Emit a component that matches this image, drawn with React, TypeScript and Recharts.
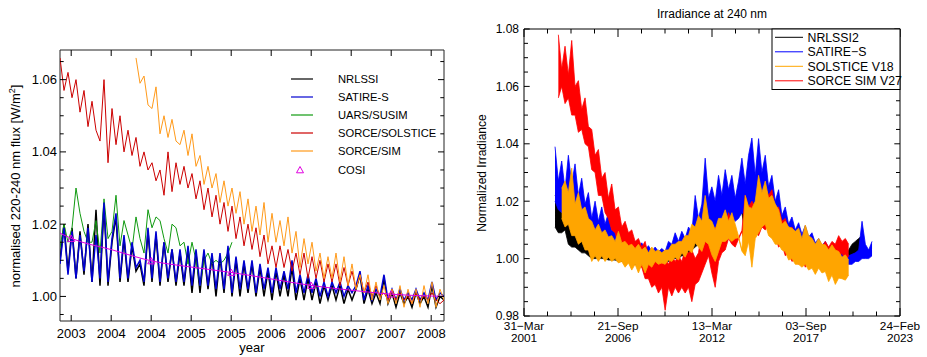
import React from "react";
import { Area, ComposedChart, Line, ReferenceArea, Scatter, XAxis, YAxis } from "recharts";

// ---------- left panel: 220-240 nm flux, samples every 0.05 yr from 2002.86 ----------
const LEFT_START = 2002.86;
const LEFT_STEP = 0.05;

const NRLSSI = [
  1.010, 1.020, 1.007, 1.019, 1.005, 1.018, 1.006, 1.020, 1.004, 1.024,
  1.003, 1.025, 1.003, 1.015, 1.022, 1.004, 1.016, 1.004, 1.014, 1.007,
  1.009, 1.003, 1.018, 1.004, 1.017, 1.003, 1.015, 1.004, 1.013, 1.003,
  1.012, 1.003, 1.013, 1.001, 1.012, 1.001, 1.012, 1.002, 1.011, 1.000,
  1.011, 1.001, 1.013, 1.000, 1.010, 1.000, 1.009, 1.001, 1.009, 1.000,
  1.008, 1.000, 1.007, 0.999, 1.007, 1.000, 1.006, 1.000, 1.008, 0.999,
  1.005, 0.999, 1.005, 0.999, 1.004, 0.998, 1.003, 0.999, 1.003, 0.999,
  1.003, 0.998, 1.002, 0.999, 1.002, 1.006, 0.998, 1.002, 0.998, 1.001,
  0.998, 1.005, 0.998, 1.001, 0.997, 1.001, 0.998, 1.000, 0.997, 1.001,
  0.998, 1.000, 0.997, 1.003, 0.997, 1.000, 0.999,
];
const SATIRE_S = [
  1.009, 1.019, 1.006, 1.018, 1.005, 1.017, 1.007, 1.019, 1.004, 1.017,
  1.005, 1.026, 1.004, 1.016, 1.023, 1.005, 1.017, 1.005, 1.015, 1.008,
  1.010, 1.004, 1.019, 1.005, 1.018, 1.004, 1.015, 1.005, 1.013, 1.004,
  1.013, 1.004, 1.014, 1.003, 1.013, 1.003, 1.013, 1.003, 1.012, 1.002,
  1.012, 1.002, 1.014, 1.001, 1.011, 1.002, 1.010, 1.002, 1.010, 1.001,
  1.009, 1.002, 1.008, 1.001, 1.008, 1.002, 1.007, 1.002, 1.010, 1.001,
  1.006, 1.001, 1.006, 1.001, 1.005, 1.000, 1.004, 1.000, 1.004, 1.001,
  1.004, 1.000, 1.003, 1.001, 1.003, 1.007, 0.999, 1.003, 0.999, 1.002,
  1.000, 1.006, 0.999, 1.002, 0.999, 1.002, 0.999, 1.001, 0.999, 1.002,
  0.999, 1.001, 0.999, 1.004, 0.999, 1.001, 1.000,
];
// UARS/SUSIM stops early in 2005
const UARS_SUSIM = [
  1.0136, 1.020, 1.015, 1.019, 1.030, 1.023, 1.018, 1.015, 1.015, 1.021,
  1.012, 1.027, 1.016, 1.018, 1.028, 1.014, 1.021, 1.017, 1.013, 1.022,
  1.016, 1.012, 1.024, 1.019, 1.022, 1.021, 1.016, 1.012, 1.020, 1.019,
  1.014, 1.015, 1.009, 1.015, 1.010, 1.003, 1.010, 1.012, 1.009, 1.010,
  1.009, 1.010, 1.012, 1.015,
];
const SORCE_SOLSTICE = [
  1.066, 1.057, 1.062, 1.055, 1.060, 1.051, 1.057, 1.047, 1.054, 1.046,
  1.043, 1.060, 1.037, 1.052, 1.042, 1.050, 1.040, 1.046, 1.039, 1.044,
  1.036, 1.040, 1.035, 1.037, 1.032, 1.035, 1.028, 1.040, 1.029, 1.037,
  1.031, 1.036, 1.030, 1.034, 1.027, 1.032, 1.024, 1.030, 1.022, 1.028,
  1.020, 1.026, 1.018, 1.025, 1.016, 1.022, 1.014, 1.020, 1.013, 1.019,
  1.011, 1.017, 1.009, 1.014, 1.008, 1.014, 1.008, 1.013, 1.007, 1.012,
  1.006, 1.012, 1.005, 1.011, 1.005, 1.010, 1.004, 1.009, 1.004, 1.009,
  1.003, 1.008, 1.003, 1.007, 1.002, 1.006, 1.001, 1.004, 1.000, 1.003,
  1.000, 1.001, 0.999, 1.002, 0.999, 1.001, 0.999, 1.000, 0.998, 1.001,
  0.999, 1.000, 0.999, 1.001, 0.999, 0.998, 0.999,
];
// SORCE/SIM starts late 2003
const SORCE_SIM = [
  null, null, null, null, null, null, null, null, null, null,
  null, null, null, null, null, null, null, null, null, 1.066,
  1.059, 1.061, 1.053, 1.052, 1.058, 1.045, 1.050, 1.044, 1.049, 1.043,
  1.042, 1.046, 1.039, 1.045, 1.036, 1.039, 1.031, 1.036, 1.030, 1.034,
  1.026, 1.032, 1.025, 1.030, 1.023, 1.029, 1.020, 1.027, 1.018, 1.025,
  1.017, 1.026, 1.015, 1.023, 1.015, 1.021, 1.014, 1.022, 1.012, 1.018,
  1.008, 1.016, 1.009, 1.015, 1.007, 1.012, 1.005, 1.011, 1.005, 1.012,
  1.004, 1.011, 1.003, 1.009, 1.002, 1.006, 1.001, 1.006, 0.999, 1.004,
  0.999, 1.003, 0.998, 1.002, 0.998, 1.003, 0.997, 1.002, 0.998, 1.002,
  0.997, 1.003, 0.998, 1.004, 0.997, 1.002, 0.999,
];
// COSI reference curve (sample index -> value) and yearly COSI points
const COSI_FIT_AT = [0, 3, 13, 23, 33, 43, 53, 63, 73, 83, 93, 96];
const COSI_FIT = [1.0175, 1.016, 1.0129, 1.0098, 1.0081, 1.0066, 1.0048, 1.003, 1.0017, 1.0006, 1.0001, 1.0];
const COSI_YEARS = [2003, 2004, 2005, 2006, 2007];
const COSI_VALUES = [1.016, 1.0098, 1.0066, 1.003, 1.0006];

const LEFT_X_TICKS = [2003, 2003.5, 2004, 2004.5, 2005, 2005.5, 2006, 2006.5, 2007, 2007.5];
const LEFT_Y_TICKS = [
  0.995, 1.0, 1.005, 1.01, 1.015, 1.02, 1.025, 1.03, 1.035, 1.04, 1.045, 1.05, 1.055, 1.06, 1.065,
];

// ---------- right panel: 240 nm, days since 31-Mar-2001, every 71 days from day 660 ----------
// each series is a noisy daily record, kept here as its low / high envelope
const RIGHT_START = 660;
const RIGHT_STEP = 71;

const NRLSSI2_LO = [
  1.011, 1.009, 1.009, 1.010, 1.005, 1.004, 1.004, 1.003, 1.002, 1.002,
  1.001, 1.000, 1.000, 1.000, 1.000, 1.000, 0.9995, 0.9995, 0.9995, 0.999,
  0.999, 0.999, 0.999, 0.998, 0.998, 0.998, 0.998, 0.998, 0.998, 0.999,
  0.999, 0.999, 0.999, 0.999, 0.999, 1.000, 1.000, 1.000, 1.001, 1.001,
  1.002, 1.003, 1.004, 1.005, 1.004, 1.006, 1.006, 1.003, 1.002, 1.004,
  1.007, 1.008, 1.008, 1.014, 1.014, 1.015, 1.016, 1.008, 1.008, 1.008,
  1.009, 1.011, 1.012, 1.012, 1.010, 1.008, 1.007, 1.006, 1.005, 1.004,
  1.002, 1.002, 1.001, 1.000, 1.000, 1.000, 0.999, 0.999, 0.998, 0.998,
  0.998, 0.998, 0.997, 0.997, 0.997, 0.997, 0.997, 0.997, 0.999, 1.001,
  1.002, 1.002, 1.003, null, null, null,
];
const NRLSSI2_HI = [
  1.022, 1.020, 1.019, 1.020, 1.018, 1.016, 1.016, 1.015, 1.014, 1.013,
  1.012, 1.011, 1.011, 1.009, 1.008, 1.007, 1.0065, 1.006, 1.0055, 1.005,
  1.005, 1.0045, 1.004, 1.004, 1.0035, 1.0035, 1.003, 1.003, 1.0025, 1.002,
  1.0025, 1.0025, 1.002, 1.002, 1.003, 1.004, 1.004, 1.005, 1.005, 1.006,
  1.007, 1.009, 1.010, 1.012, 1.012, 1.015, 1.013, 1.012, 1.010, 1.013,
  1.014, 1.015, 1.013, 1.016, 1.016, 1.017, 1.018, 1.018, 1.017, 1.017,
  1.019, 1.024, 1.022, 1.024, 1.020, 1.019, 1.018, 1.015, 1.011, 1.012,
  1.010, 1.0095, 1.009, 1.009, 1.0065, 1.009, 1.0075, 1.006, 1.0045, 1.005,
  1.0045, 1.004, 1.0025, 1.0035, 1.0025, 1.002, 1.0005, 1.001, 1.003, 1.005,
  1.006, 1.007, 1.008, null, null, null,
];
const SATIRE2_LO = [
  1.020, 1.017, 1.016, 1.016, 1.015, 1.014, 1.012, 1.011, 1.011, 1.009,
  1.008, 1.006, 1.007, 1.006, 1.005, 1.005, 1.004, 1.0025, 1.0013, 1.0013,
  1.000, 1.000, 1.000, 0.999, 0.999, 0.999, 0.999, 0.999, 0.999, 0.999,
  0.999, 0.999, 0.999, 0.999, 1.000, 1.001, 1.001, 1.001, 1.002, 1.002,
  1.003, 1.004, 1.006, 1.007, 1.007, 1.009, 1.010, 1.009, 1.010, 1.011,
  1.012, 1.013, 1.013, 1.014, 1.013, 1.014, 1.016, 1.015, 1.015, 1.015,
  1.015, 1.015, 1.014, 1.013, 1.011, 1.010, 1.009, 1.008, 1.007, 1.006,
  1.005, 1.004, 1.003, 1.002, 1.001, 1.001, 1.000, 1.000, 0.999, 0.999,
  0.999, 0.999, 0.999, 0.999, 0.999, 0.999, 0.998, 0.998, 0.998, 0.998,
  0.999, 0.999, 1.000, 1.000, 1.000, 1.001,
];
const SATIRE2_HI = [
  1.039, 1.027, 1.034, 1.024, 1.036, 1.026, 1.033, 1.022, 1.028, 1.019,
  1.023, 1.014, 1.020, 1.013, 1.018, 1.012, 1.016, 1.0095, 1.012, 1.008,
  1.0095, 1.006, 1.008, 1.0045, 1.006, 1.0035, 1.0055, 1.003, 1.0045, 1.0025,
  1.004, 1.0025, 1.0035, 1.0025, 1.006, 1.005, 1.009, 1.006, 1.0095, 1.007,
  1.011, 1.009, 1.022, 1.014, 1.019, 1.035, 1.021, 1.025, 1.020, 1.029,
  1.022, 1.031, 1.024, 1.029, 1.021, 1.027, 1.035, 1.026, 1.036, 1.042,
  1.029, 1.0418, 1.030, 1.036, 1.025, 1.029, 1.020, 1.024, 1.015, 1.018,
  1.012, 1.0145, 1.010, 1.0125, 1.0085, 1.0115, 1.0075, 1.009, 1.0055, 1.007,
  1.0045, 1.006, 1.0035, 1.005, 1.003, 1.0045, 1.002, 1.003, 1.001, 1.0015,
  1.002, 1.003, 1.013, 1.005, 1.003, 1.006,
];
const SOLSTICE_LO = [
  null, null, 1.014, 1.011, 1.012, 1.008, 1.008, 1.005, 1.006, 1.003,
  1.003, 0.999, 1.001, 0.999, 1.001, 0.999, 1.0005, 0.999, 1.000, 0.9985,
  0.999, 0.997, 0.9985, 0.996, 0.998, 0.995, 0.998, 0.995, 0.998, 0.997,
  0.999, 0.998, 0.9985, 0.998, 0.9995, 0.999, 1.0005, 0.9995, 1.002, 1.0005,
  1.003, 1.002, 1.0055, 1.004, 1.0025, 1.006, 1.005, 1.0013, 0.999, 1.0025,
  1.006, 1.006, 1.007, 1.006, 1.007, 1.0073, 1.0026, 1.001, 1.006, 0.997,
  1.007, 1.009, 1.011, 1.012, 1.008, 1.007, 1.005, 1.005, 1.003, 1.0025,
  0.9995, 1.000, 0.998, 0.998, 0.997, 0.998, 0.996, 0.9967, 0.9945, 0.9967,
  0.995, 0.9955, 0.992, 0.9943, 0.991, 0.9932, 0.993, 0.9925, 0.9943, null,
  null, null, null, null, null, null,
];
const SOLSTICE_HI = [
  null, null, 1.0245, 1.027, 1.023, 1.0315, 1.019, 1.023, 1.017, 1.018,
  1.014, 1.013, 1.010, 1.012, 1.009, 1.010, 1.0075, 1.008, 1.006, 1.0095,
  1.0055, 1.006, 1.0045, 1.005, 1.0035, 1.005, 1.003, 1.004, 1.002, 1.004,
  1.0025, 1.003, 1.002, 1.003, 1.003, 1.005, 1.005, 1.006, 1.006, 1.008,
  1.008, 1.012, 1.011, 1.015, 1.013, 1.022, 1.014, 1.013, 1.010, 1.014,
  1.014, 1.017, 1.013, 1.016, 1.012, 1.0077, 1.003, 1.022, 1.018, 1.0175,
  1.020, 1.029, 1.023, 1.027, 1.021, 1.022, 1.019, 1.017, 1.012, 1.013,
  1.011, 1.0106, 1.0095, 1.0106, 1.007, 1.0117, 1.008, 1.0071, 1.005, 1.007,
  1.005, 1.0048, 1.003, 1.0048, 1.003, 1.0025, 1.0005, 1.0013, 0.9995, null,
  null, null, null, null, null, null,
];
const SIM_V27_LO = [
  null, 1.056, 1.060, 1.054, 1.056, 1.050, 1.050, 1.044, 1.045, 1.040,
  1.039, 1.031, 1.030, 1.022, 1.022, 1.016, 1.014, 1.010, 1.009, 1.005,
  1.006, 1.003, 1.004, 1.001, 1.002, 0.997, 0.997, 0.993, 0.993, 0.990,
  0.991, 0.988, 0.990, 0.982, 0.990, 0.987, 0.990, 0.988, 0.990, 0.988,
  0.990, 0.985, 0.991, 0.992, 0.995, 0.998, 1.001, 0.995, 0.990, 0.999,
  1.002, 1.003, 1.007, 1.005, 1.004, 1.0068, 1.0094, 1.004, 1.009, 1.006,
  1.009, 1.008, 1.011, 1.010, 1.012, 1.008, 1.008, 1.004, 1.005, 1.001,
  1.002, 0.999, 1.000, 0.998, 1.000, 0.997, 1.000, 0.997, 1.000, 0.998,
  1.000, 0.998, 1.000, 0.999, 1.001, 1.000, 1.002, 0.999, 1.001, null,
  null, null, null, null, null, null,
];
const SIM_V27_HI = [
  null, 1.078, 1.066, 1.074, 1.064, 1.076, 1.060, 1.062, 1.052, 1.056,
  1.046, 1.045, 1.036, 1.038, 1.028, 1.030, 1.021, 1.026, 1.017, 1.018,
  1.011, 1.013, 1.009, 1.010, 1.006, 1.007, 1.004, 1.006, 1.001, 1.002,
  0.999, 1.001, 0.998, 1.000, 0.998, 1.001, 0.999, 1.001, 0.999, 1.003,
  1.002, 1.003, 1.000, 1.002, 1.010, 1.007, 1.012, 1.008, 1.011, 1.008,
  1.012, 1.011, 1.016, 1.013, 1.008, 1.0072, 1.0098, 1.022, 1.018, 1.020,
  1.018, 1.022, 1.020, 1.025, 1.022, 1.024, 1.017, 1.018, 1.013, 1.014,
  1.010, 1.011, 1.008, 1.008, 1.006, 1.007, 1.005, 1.006, 1.004, 1.005,
  1.004, 1.006, 1.004, 1.006, 1.005, 1.008, 1.006, 1.007, 1.005, null,
  null, null, null, null, null, null,
];

const RIGHT_X_TICKS = [0, 500, 1000, 1500, 2000, 2500, 3000, 3500, 4000, 4500, 5000, 5500, 6000, 6500, 7000, 7500, 8000];
const RIGHT_X_LABELS: Record<number, [string, string]> = {
  0: ["31\u2212Mar", "2001"],
  2000: ["21\u2212Sep", "2006"],
  4000: ["13\u2212Mar", "2012"],
  6000: ["03\u2212Sep", "2017"],
  8000: ["24\u2212Feb", "2023"],
};
const RIGHT_Y_TICKS = [
  0.98, 0.985, 0.99, 0.995, 1.0, 1.005, 1.01, 1.015, 1.02, 1.025, 1.03,
  1.035, 1.04, 1.045, 1.05, 1.055, 1.06, 1.065, 1.07, 1.075, 1.08,
];

const LEFT_LEGEND = [
  { name: "NRLSSI", color: "#000000" },
  { name: "SATIRE-S", color: "#0000d0" },
  { name: "UARS/SUSIM", color: "#109a10" },
  { name: "SORCE/SOLSTICE", color: "#cc0000" },
  { name: "SORCE/SIM", color: "#ff9a1a" },
];
const RIGHT_LEGEND = [
  { name: "NRLSSI2", color: "#000000" },
  { name: "SATIRE\u2212S", color: "#0000ff" },
  { name: "SOLSTICE V18", color: "#ffa500" },
  { name: "SORCE SIM V27", color: "#ff0000" },
];
const COSI_COLOR = "#e000e0";

const leftRows = SATIRE_S.map((sat, i) => ({
  t: LEFT_START + LEFT_STEP * i,
  nrl: NRLSSI[i],
  sat,
  susim: UARS_SUSIM[i] ?? null,
  sol: SORCE_SOLSTICE[i],
  sim: SORCE_SIM[i] ?? null,
  cosi: COSI_FIT_AT.includes(i) ? COSI_FIT[COSI_FIT_AT.indexOf(i)] : null,
}));
const cosiPoints = COSI_YEARS.map((t, k) => ({ t, cosi: COSI_VALUES[k] }));

const pair = (lo: (number | null)[], hi: (number | null)[], i: number) =>
  lo[i] == null || hi[i] == null ? null : [lo[i], hi[i]];

const rightRows = SATIRE2_LO.map((_, i) => ({
  d: RIGHT_START + RIGHT_STEP * i,
  nrl2: pair(NRLSSI2_LO, NRLSSI2_HI, i),
  sat: pair(SATIRE2_LO, SATIRE2_HI, i),
  sol: pair(SOLSTICE_LO, SOLSTICE_HI, i),
  sim: pair(SIM_V27_LO, SIM_V27_HI, i),
}));

// plot boxes (chart-local pixels)
const LB = { left: 60, right: 444, top: 50, bottom: 321 };
const RB = { left: 54, right: 430, top: 29, bottom: 316 };

const isMajor02 = (v: number) => Math.abs(v * 50 - Math.round(v * 50)) < 1e-6;

function LeftXTick(props: any) {
  const { x, payload } = props;
  return (
    <g>
      <line x1={x} x2={x} y1={LB.bottom} y2={LB.bottom - 6} stroke="#000" />
      <line x1={x} x2={x} y1={LB.top} y2={LB.top + 6} stroke="#000" />
      <text x={x} y={LB.bottom + 17} textAnchor="middle" fontSize={13} fill="#000">
        {Math.round(payload.value)}
      </text>
    </g>
  );
}

function LeftYTick(props: any) {
  const { y, payload } = props;
  const major = isMajor02(payload.value);
  const len = major ? 6 : 3.7;
  return (
    <g>
      <line x1={LB.left} x2={LB.left + len} y1={y} y2={y} stroke="#000" />
      <line x1={LB.right} x2={LB.right - len} y1={y} y2={y} stroke="#000" />
      {major && (
        <text x={LB.left - 3} y={y + 4.6} textAnchor="end" fontSize={13} fill="#000">
          {payload.value.toFixed(2)}
        </text>
      )}
    </g>
  );
}

function RightXTick(props: any) {
  const { x, payload } = props;
  const lab = RIGHT_X_LABELS[payload.value];
  const len = lab ? 8 : 4.5;
  return (
    <g>
      <line x1={x} x2={x} y1={RB.bottom} y2={RB.bottom - len} stroke="#000" />
      <line x1={x} x2={x} y1={RB.top} y2={RB.top + len} stroke="#000" />
      {lab && (
        <>
          <text x={x} y={RB.bottom + 13.5} textAnchor="middle" fontSize={11.8} fill="#000">
            {lab[0]}
          </text>
          <text x={x} y={RB.bottom + 26} textAnchor="middle" fontSize={11.8} fill="#000">
            {lab[1]}
          </text>
        </>
      )}
    </g>
  );
}

function RightYTick(props: any) {
  const { y, payload } = props;
  const major = isMajor02(payload.value);
  const len = major ? 5.7 : 4;
  return (
    <g>
      <line x1={RB.left} x2={RB.left + len} y1={y} y2={y} stroke="#000" />
      <line x1={RB.right} x2={RB.right - len} y1={y} y2={y} stroke="#000" />
      {major && (
        <text x={RB.left - 5} y={y + 4.3} textAnchor="end" fontSize={12} fill="#000">
          {payload.value.toFixed(2)}
        </text>
      )}
    </g>
  );
}

const triangle = (props: any) => {
  const { cx, cy } = props;
  return <path d={`M${cx},${cy - 3.5} L${cx + 3.5},${cy + 2.8} L${cx - 3.5},${cy + 2.8} Z`} fill="none" stroke={COSI_COLOR} strokeWidth={1} />;
};

const bandProps = { type: "linear" as const, strokeWidth: 0.8, fillOpacity: 1, dot: false, activeDot: false, isAnimationActive: false };

export default function App() {
  return (
    <div
      style={{
        position: "absolute",
        left: 0,
        top: 0,
        width: 927,
        height: 357,
        background: "#fff",
        fontFamily: '"Liberation Sans", Arial, Helvetica, sans-serif',
      }}
    >
      <div style={{ position: "absolute", left: 0, top: 0 }}>
        {/* axes are 1px wide/high so they still render; margins absorb that pixel */}
        <ComposedChart
          width={470}
          height={357}
          data={leftRows}
          margin={{ top: LB.top, left: LB.left - 1, right: 470 - LB.right, bottom: 357 - LB.bottom - 1 }}
        >
          <XAxis
            dataKey="t"
            type="number"
            domain={[2002.86, 2007.66]}
            allowDataOverflow
            ticks={LEFT_X_TICKS}
            interval={0}
            height={1}
            axisLine={false}
            tickLine={false}
            tick={LeftXTick}
          />
          <YAxis
            type="number"
            domain={[0.9932, 1.0682]}
            allowDataOverflow
            ticks={LEFT_Y_TICKS}
            interval={0}
            width={1}
            axisLine={false}
            tickLine={false}
            tick={LeftYTick}
          />
          <Line dataKey="nrl" stroke="#000" strokeWidth={1.5} dot={false} activeDot={false} isAnimationActive={false} />
          <Line dataKey="susim" stroke="#109a10" strokeWidth={1} dot={false} activeDot={false} isAnimationActive={false} />
          <Line dataKey="sat" stroke="#0000d0" strokeWidth={1.5} dot={false} activeDot={false} isAnimationActive={false} />
          <Line dataKey="sol" stroke="#cc0000" strokeWidth={1} dot={false} activeDot={false} isAnimationActive={false} />
          <Line dataKey="sim" stroke="#ff9a1a" strokeWidth={1} dot={false} activeDot={false} isAnimationActive={false} />
          <Line
            dataKey="cosi"
            type="monotone"
            connectNulls
            stroke={COSI_COLOR}
            strokeWidth={1}
            dot={false}
            activeDot={false}
            isAnimationActive={false}
          />
          <Scatter data={cosiPoints} dataKey="cosi" shape={triangle} isAnimationActive={false} />
          <ReferenceArea x1={2002.86} x2={2007.66} y1={0.9932} y2={1.0682} fill="none" stroke="#222" strokeWidth={1} />
        </ComposedChart>
      </div>

      <div style={{ position: "absolute", left: 470, top: 0 }}>
        <ComposedChart
          width={457}
          height={357}
          data={rightRows}
          margin={{ top: RB.top, left: RB.left - 1, right: 457 - RB.right, bottom: 357 - RB.bottom - 1 }}
        >
          <XAxis
            dataKey="d"
            type="number"
            domain={[0, 8000]}
            allowDataOverflow
            ticks={RIGHT_X_TICKS}
            interval={0}
            height={1}
            axisLine={false}
            tickLine={false}
            tick={RightXTick}
          />
          <YAxis
            type="number"
            domain={[0.98, 1.08]}
            allowDataOverflow
            ticks={RIGHT_Y_TICKS}
            interval={0}
            width={1}
            axisLine={false}
            tickLine={false}
            tick={RightYTick}
          />
          <Area dataKey="nrl2" stroke="#000" fill="#000" {...bandProps} />
          <Area dataKey="sat" stroke="#0000ff" fill="#0000ff" {...bandProps} />
          <Area dataKey="sim" stroke="#ff0000" fill="#ff0000" {...bandProps} />
          <Area dataKey="sol" stroke="#ffa500" fill="#ffa500" {...bandProps} />
          <ReferenceArea x1={0} x2={8000} y1={0.98} y2={1.08} fill="none" stroke="#000" strokeWidth={1} />
        </ComposedChart>
      </div>

      <svg
        width={927}
        height={357}
        style={{ position: "absolute", left: 0, top: 0, pointerEvents: "none" }}
      >
        {/* left panel titles */}
        <text x={20} y={186} transform="rotate(-90 20 186)" textAnchor="middle" fontSize={13} fill="#000">
          normalised 220-240 nm flux [W/m
          <tspan dy={-5} fontSize={9}>2</tspan>
          <tspan dy={5}>]</tspan>
        </text>
        <text x={252} y={352} textAnchor="middle" fontSize={13} fill="#000">
          year
        </text>
        {LEFT_LEGEND.map((e, k) => (
          <g key={e.name}>
            <line x1={291} x2={313} y1={79 + 18 * k} y2={79 + 18 * k} stroke={e.color} strokeWidth={1.2} />
            <text x={338} y={83 + 18 * k} fontSize={11.2} fill="#000">
              {e.name}
            </text>
          </g>
        ))}
        {triangle({ cx: 300, cy: 170 })}
        <text x={338} y={173.5} fontSize={11.2} fill="#000">
          COSI
        </text>

        {/* right panel titles */}
        <text x={712} y={18} textAnchor="middle" fontSize={12} fill="#000">
          Irradiance at 240 nm
        </text>
        <text x={486} y={173} transform="rotate(-90 486 173)" textAnchor="middle" fontSize={12} fill="#000">
          Normalized Irradiance
        </text>
        <rect x={772} y={29} width={128} height={60.5} fill="#fff" stroke="#000" strokeWidth={1} />
        {RIGHT_LEGEND.map((e, k) => (
          <g key={e.name}>
            <line x1={775} x2={803} y1={37.3 + 14.5 * k} y2={37.3 + 14.5 * k} stroke={e.color} strokeWidth={1} />
            <text x={807.5} y={41.7 + 14.5 * k} fontSize={12.3} fill="#000">
              {e.name}
            </text>
          </g>
        ))}
      </svg>
    </div>
  );
}
